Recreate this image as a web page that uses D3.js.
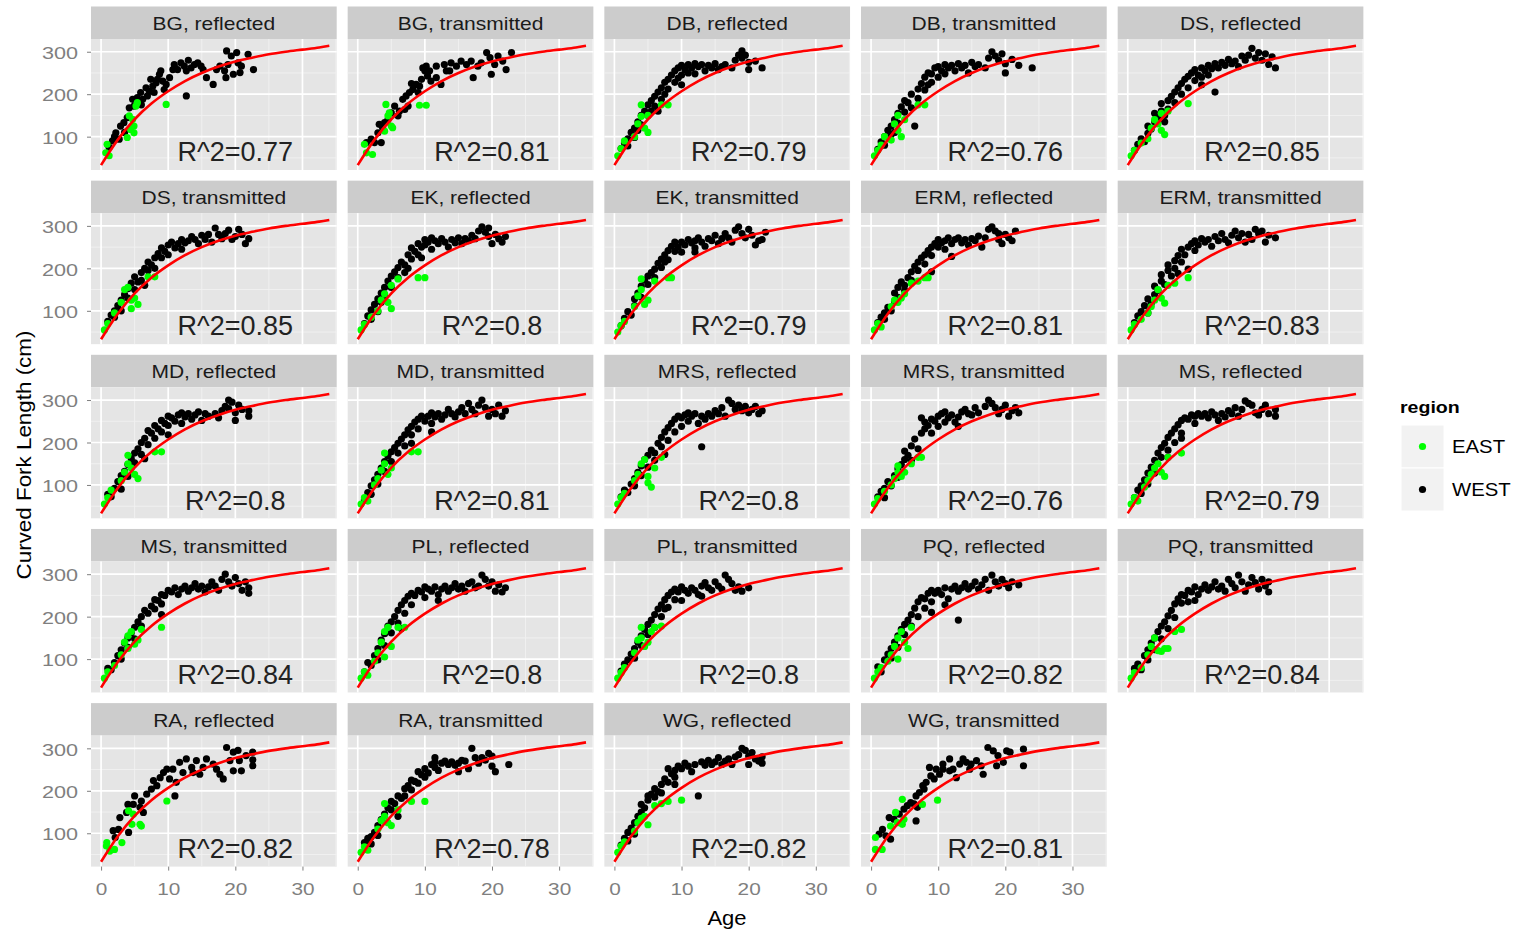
<!DOCTYPE html>
<html>
<head>
<meta charset="utf-8">
<script src="https://cdn.jsdelivr.net/npm/d3@7"></script>
<style>
  body { margin: 0; background: #ffffff; }
  svg text { font-family: "Liberation Sans", Arial, sans-serif; }
</style>
</head>
<body>
<svg id="chart" width="1517" height="932"></svg>
<script>
// Facet titles and fit quality, in facet order
const panelNames = [
  "BG, reflected", "BG, transmitted", "DB, reflected", "DB, transmitted", "DS, reflected",
  "DS, transmitted", "EK, reflected", "EK, transmitted", "ERM, reflected", "ERM, transmitted",
  "MD, reflected", "MD, transmitted", "MRS, reflected", "MRS, transmitted", "MS, reflected",
  "MS, transmitted", "PL, reflected", "PL, transmitted", "PQ, reflected", "PQ, transmitted",
  "RA, reflected", "RA, transmitted", "WG, reflected", "WG, transmitted"
];
const rSquared = [
  0.77, 0.81, 0.79, 0.76, 0.85,
  0.85, 0.8, 0.79, 0.81, 0.83,
  0.8, 0.81, 0.8, 0.76, 0.79,
  0.84, 0.8, 0.8, 0.82, 0.84,
  0.82, 0.78, 0.82, 0.81
];

// Fitted growth curve (age, curved fork length)
const fitAge    = [0, 2.5, 5, 7.5, 10, 12.5, 15, 17.5, 20, 22.5, 25, 27.5, 30, 32.5, 34];
const fitLength = [33, 93, 141, 178, 207, 231, 250, 265, 277, 286, 294, 300, 305, 310, 314];

const xTicks = [0, 10, 20, 30];
const yTicks = [100, 200, 300];
const regions = ["EAST", "WEST"];

// [age, length] per reader/method
const bgRefWest = [[1.7,90],[2.2,109],[2.9,125],[2.7,94],[3.4,133],[3.9,145],[4.2,168],[4.7,188],[4.9,172],[5.4,192],[5.9,204],[6.2,188],[6.7,215],[6.9,196],[7.2,207],[7.7,219],[7.9,204],[8.2,227],[8.7,247],[8.9,255],[9.2,231],[9.7,223],[10.2,239],[10.7,258],[10.9,270],[11.4,258],[11.9,274],[12.4,266],[12.7,255],[13.4,262],[13.9,270],[14.4,274],[14.9,266],[15.2,258],[15.7,239],[16.7,223],[12.7,196],[17.2,258],[17.7,266],[18.4,255],[18.6,239],[18.9,270],[18.7,302],[19.4,290],[20.2,298],[20.4,274],[20.7,251],[20.9,266],[21.9,294],[22.7,258],[19.7,247],[8.4,235],[9.4,211],[7.4,235],[1.2,75],[2.0,100],[3.5,110],[6.0,175],[11.0,262],[13.0,280]];
const bgRefEast = [[0.9,82],[0.7,62],[1.2,55],[3.9,98],[4.4,117],[4.9,125],[4.2,149],[5.2,172],[5.4,180],[9.7,176],[4.9,109],[4.7,141]];

const bgTrWest = [[1.3,86],[2,94],[3,109],[3.5,86],[3.2,129],[4,133],[5,156],[5.5,172],[6.2,160],[6.7,188],[7.2,196],[7.5,172],[7.7,204],[8.2,211],[8.7,223],[9.2,219],[9.5,235],[9.7,262],[10,255],[10.4,243],[10.9,231],[11.7,239],[12.4,223],[12.9,270],[13.2,255],[13.9,274],[14.7,266],[15.4,278],[16.2,270],[16.9,278],[17.2,239],[17.9,266],[18.4,274],[19.2,298],[19.7,286],[19.9,247],[20.4,270],[20.9,290],[21.6,278],[22.1,258],[22.9,298],[13.7,255],[11.7,266],[10.7,255],[10.2,266],[9,204],[7,164],[6,149],[3.7,121],[2.5,86],[4.5,140],[8,225]];
const bgTrEast = [[1,82],[1.3,62],[2.2,58],[4.2,176],[4.5,149],[5,125],[5.2,121],[4,113],[9.2,174],[10.2,174],[4.7,156]];

const dbRefWest = [[1,72],[1.5,85],[2,95],[2,78],[2.5,110],[3,120],[3,98],[3.5,135],[3.5,115],[4,150],[4,128],[4.5,160],[5,175],[5,150],[5.5,185],[5.5,160],[6,195],[6,172],[6.5,205],[7,215],[7,188],[7.5,228],[7.5,200],[8,235],[8,212],[8.5,245],[9,255],[9,228],[9.5,262],[9.5,238],[10,268],[10,245],[10.5,258],[11,270],[11,250],[11.5,262],[12,272],[12,248],[12.5,265],[13,270],[13.5,255],[14,268],[14.5,262],[15,272],[15.5,258],[16,265],[16.5,270],[17.5,262],[18,280],[18.5,292],[19,302],[19,285],[19.5,292],[20,275],[20,258],[21,278],[22,262],[6.5,160],[10,222]];
const dbRefEast = [[0.5,55],[1,72],[1.5,90],[3.5,130],[4,148],[4,175],[4.5,120],[5,110],[5,150],[7,175],[8,175],[3,100]];

const dbTrWest = [[1,70],[1.5,88],[2,80],[2,100],[2.5,115],[3,105],[3,125],[3.5,140],[4,155],[4,132],[4.5,170],[5,185],[5,158],[5.5,180],[6,200],[6,168],[6.5,125],[7,212],[7,190],[7.5,225],[8,240],[8,210],[8.5,250],[9,248],[9,228],[9.5,262],[10,265],[10,240],[10.5,255],[11,270],[11,248],[11.5,262],[12,268],[12.5,255],[13,272],[13.5,262],[14,268],[14.5,250],[15,275],[15.5,265],[16,270],[17,262],[17.5,285],[18,300],[18.5,290],[19,280],[19.5,295],[20,272],[20,250],[21,282],[22,268],[24,262],[3.5,110],[8.5,222]];
const dbTrEast = [[0.5,55],[1,68],[1.5,80],[2,100],[3.5,130],[4,150],[4,115],[4.5,100],[5,140],[7,175],[8,175],[3,92]];

const dsRefWest = [[1,68],[1.5,82],[2,95],[2.5,88],[3,108],[3,125],[3.5,118],[4,135],[4,155],[4.5,145],[5,160],[5,178],[5.5,150],[6,185],[6,165],[6.5,195],[7,205],[7,180],[7.5,215],[8,225],[8,200],[8.5,235],[9,242],[9,215],[9.5,250],[10,258],[10,232],[10.5,245],[11,262],[11,240],[11.5,255],[12,268],[12,245],[12.5,260],[13,272],[13,205],[13.5,262],[14,275],[14.5,268],[15,282],[15.5,272],[16,278],[16.5,265],[17,290],[17.5,280],[18,292],[18.5,308],[19,285],[19.5,298],[20,280],[20.5,295],[21,270],[21.5,288],[22,262],[5.5,135],[11,222]];
const dsRefEast = [[0.5,55],[1,68],[2,85],[3,95],[3.5,120],[4,140],[4.5,130],[5,115],[5,155],[5.5,105],[6,160],[9,178]];

const dsTrWest = [[1,75],[1.5,90],[2,85],[2,100],[2.5,112],[3,100],[3,125],[3.5,138],[4,130],[4,152],[4.5,165],[5,150],[5,180],[5.5,168],[6,190],[6,172],[6.5,200],[7,195],[7,215],[7.5,208],[8,225],[8,200],[8.5,235],[9,225],[9,248],[9.5,240],[10,255],[10,232],[10.5,262],[11,248],[11.5,258],[12,245],[12,268],[12.5,260],[13,265],[13.5,275],[14,268],[14.5,258],[15,278],[15.5,268],[16,280],[16.5,262],[17,295],[17.5,280],[18,270],[18.5,282],[19,290],[19.5,268],[20,275],[20.5,292],[21,280],[21.5,258],[22,270],[6.5,160]];
const dsTrEast = [[0.5,55],[1,70],[2,95],[3,120],[3.5,150],[4,155],[4.5,125],[4.5,105],[5,130],[5.5,115],[7,180],[8,180]];

const ekRefWest = [[1,70],[1.5,88],[2,80],[2,102],[2.5,115],[3,98],[3,128],[3.5,142],[3.5,120],[4,155],[4,135],[4.5,170],[5,182],[5,155],[5.5,192],[6,202],[6,178],[6.5,215],[7,208],[7,190],[7.5,232],[8,222],[8,248],[8.5,240],[9,258],[9,232],[9.5,250],[10,255],[10,268],[10.5,262],[11,245],[11,272],[11.5,265],[12,258],[12.5,270],[13,262],[13.5,250],[14,268],[14.5,260],[15,272],[15.5,258],[16,270],[16.5,265],[17,278],[17.5,270],[18,288],[18.5,298],[19,285],[19.5,275],[19.5,295],[20,258],[20.5,280],[21,270],[21.5,262],[22,275],[7.5,200],[9.5,225]];
const ekRefEast = [[0.5,55],[1,68],[2,85],[3,100],[3.5,125],[4,140],[4.5,120],[5,160],[5,105],[6,175],[9,178],[10,178]];

const ekTrWest = [[1,65],[1.5,82],[2,98],[2.5,90],[3,112],[3,128],[3.5,142],[4,132],[4,158],[4.5,172],[5,162],[5,182],[5.5,190],[6,198],[6,178],[6.5,212],[7,222],[7,202],[7.5,232],[8,220],[8,242],[8.5,252],[9,240],[9,262],[9.5,250],[10,262],[10.5,255],[11,268],[11.5,260],[12,265],[12,248],[12.5,272],[13,262],[13.5,252],[14,270],[14.5,265],[15,278],[15.5,258],[16,270],[16.5,282],[17,272],[17.5,262],[18,290],[18.5,298],[19,282],[19.5,272],[20,292],[20.5,278],[21,255],[21.5,265],[22,268],[22.5,285],[10,238],[12,238],[7.5,215]];
const ekTrEast = [[0.5,50],[1,65],[1.5,75],[3,110],[3.5,135],[4,150],[4,175],[4.5,115],[5,125],[6,170],[8,178],[8.5,178]];

const ermRefWest = [[1,72],[1.5,85],[2,95],[2,80],[2.5,108],[3,100],[3.5,122],[3.5,142],[4,155],[4,132],[4.5,168],[5,160],[5,148],[5.5,178],[6,192],[6,172],[6.5,205],[7,215],[7,195],[7.5,225],[8,232],[8,210],[8.5,242],[9,250],[9,230],[9.5,258],[10,250],[10,268],[10.5,260],[11,265],[11,245],[11.5,272],[12,258],[12.5,268],[13,272],[13.5,260],[14,268],[14.5,255],[15,270],[15.5,265],[16,276],[16.5,250],[17,272],[17.5,292],[18,298],[18.5,288],[19,282],[19,268],[19.5,258],[20,280],[20.5,272],[21,265],[21.5,288],[9,192],[12,228]];
const ermRefEast = [[0.5,55],[1,70],[1.5,62],[3,110],[3.5,125],[4,120],[4.5,130],[5,140],[6,165],[7,170],[8,178],[8.5,178]];

const ermTrWest = [[1,72],[1.5,88],[2,98],[2.5,112],[3,95],[3,128],[3.5,118],[4,138],[4,158],[4.5,148],[5,170],[5,185],[5.5,162],[6,195],[6,208],[6.5,182],[7,218],[7,200],[7.5,230],[8,215],[8,245],[8.5,232],[9,250],[9.5,258],[10,242],[10,265],[10.5,255],[11,270],[11.5,262],[12,268],[12.5,252],[13,275],[13.5,265],[14,282],[14.5,268],[15,260],[15.5,278],[16,288],[16.5,272],[17,282],[17.5,262],[18,280],[18.5,268],[19,292],[19.5,282],[20,288],[20.5,262],[21,278],[22,272],[9,198],[7.5,188]];
const ermTrEast = [[0.5,55],[1,68],[2,80],[3,95],[3.5,110],[4,125],[4.5,150],[5,130],[5.5,118],[6,160],[7,165],[9,178]];

const mdRefWest = [[1,78],[1.5,72],[2,92],[2.5,108],[3,90],[3,122],[3.5,132],[4,148],[4,120],[4.5,162],[5,175],[5,152],[5.5,185],[6,200],[6,172],[6.5,210],[7,228],[7,195],[7.5,222],[8,240],[8,210],[8.5,232],[9,252],[9,225],[9.5,245],[10,262],[10,240],[10.5,258],[11,250],[11.5,265],[12,270],[12,245],[12.5,260],[13,268],[13.5,255],[14,265],[14.5,272],[15,252],[15.5,268],[16,262],[17,268],[17.5,258],[18,275],[18.5,285],[19,300],[19,280],[19.5,295],[20,270],[20,252],[20.5,288],[21,278],[22,275],[22,262],[6.5,162],[10,218]];
const mdRefEast = [[0.5,55],[1,70],[1.5,88],[3,110],[3.5,130],[4,150],[4,170],[4.5,140],[5,125],[5.5,115],[8,178],[9,178]];

const mdTrWest = [[1,65],[1.5,82],[2,78],[2,98],[2.5,112],[3,125],[3,102],[3.5,140],[4,155],[4,132],[4.5,168],[5,178],[5,155],[5.5,188],[6,198],[6,175],[6.5,208],[7,218],[7,192],[7.5,230],[8,238],[8,218],[8.5,248],[9,255],[9,232],[9.5,262],[10,250],[10.5,262],[11,270],[11,245],[11.5,260],[12,268],[12.5,255],[13,265],[13.5,278],[14,268],[14.5,260],[15,272],[15.5,282],[16,268],[16.5,292],[17,278],[17.5,268],[18,288],[18.5,300],[19,282],[19.5,262],[20,278],[20.5,268],[21,288],[21.5,262],[22,275],[11,225],[8,198]];
const mdTrEast = [[0.5,55],[1,70],[1.5,62],[2.5,100],[3,115],[3.5,135],[4,150],[4,175],[4.5,125],[5,140],[8,178],[9,178]];

const mrsRefWest = [[1,72],[1.5,88],[2,82],[2.5,102],[3,115],[3,98],[3.5,130],[4,145],[4,122],[4.5,160],[5,170],[5,142],[5.5,182],[6,175],[6,158],[6.5,198],[7,212],[7,190],[7.5,225],[8,235],[8,205],[8.5,245],[9,255],[9,225],[9.5,262],[10,258],[10.5,265],[11,270],[11,250],[11.5,262],[12,268],[12.5,245],[13,262],[13,190],[13.5,255],[14,268],[14.5,262],[15,275],[15.5,268],[16,282],[16.5,262],[17,300],[17.5,292],[18,278],[18.5,288],[19,275],[19.5,285],[20,270],[20.5,278],[21,285],[21.5,268],[22,275],[10,238],[7.5,172]];
const mrsRefEast = [[0.5,55],[1,70],[1.5,80],[3,110],[3.5,125],[4,150],[4.5,160],[5,105],[5,120],[5.5,95],[6,140],[7,165]];

const mrsTrWest = [[1,72],[1.5,85],[2,70],[2,92],[2.5,108],[3,98],[3.5,122],[4,138],[4,118],[4.5,148],[5,160],[5,180],[5.5,170],[6,192],[6,158],[6.5,208],[7,185],[7.5,222],[7.5,258],[8,232],[8,248],[8.5,240],[9,255],[9.5,250],[10,262],[10,238],[10.5,268],[11,272],[11,248],[11.5,258],[12,265],[12.5,248],[13,260],[13.5,272],[14,278],[14.5,268],[15,265],[15.5,282],[16,270],[17,285],[17.5,300],[18,292],[18.5,282],[19,268],[19.5,278],[20,288],[20.5,262],[21,275],[21.5,282],[22,270],[9,222],[13,238]];
const mrsTrEast = [[0.5,55],[1,68],[2,85],[3,100],[3.5,115],[4,130],[4,145],[4.5,120],[5,130],[6,150],[7,165],[7.5,165]];

const msRefWest = [[1,70],[1.5,88],[2,98],[2,80],[2.5,112],[3,128],[3,102],[3.5,142],[4,158],[4,128],[4.5,175],[5,188],[5,165],[5.5,198],[6,212],[6,182],[6.5,222],[7,232],[7,200],[7.5,242],[8,252],[8,222],[8.5,258],[9,255],[9.5,265],[10,262],[10,245],[10.5,268],[11,262],[11.5,268],[12,258],[12.5,272],[13,265],[13.5,252],[14,268],[14.5,260],[15,275],[15.5,268],[16,282],[16.5,262],[17,278],[17.5,298],[18,292],[18.5,288],[19,270],[19.5,265],[20,278],[20.5,288],[21,268],[22,278],[22,262],[8,210],[6,165]];
const msRefEast = [[0.5,55],[1,70],[1.5,62],[2.5,95],[3,110],[3.5,125],[4,140],[4.5,150],[5,130],[5.5,120],[6,165],[8,175]];

const msTrWest = [[1,78],[1.5,75],[2,92],[2.5,108],[3,122],[3,100],[3.5,138],[4,150],[4,128],[4.5,162],[5,175],[5,148],[5.5,188],[6,200],[6,178],[6.5,215],[7,208],[7.5,225],[8,240],[8,218],[8.5,238],[9,252],[9,230],[9.5,250],[10,262],[10.5,258],[11,268],[11.5,252],[12,265],[12.5,272],[13,260],[13.5,268],[14,278],[14.5,265],[15,272],[15.5,258],[16,270],[16.5,282],[17,272],[17.5,262],[18,288],[18.5,300],[19,282],[19.5,272],[20,292],[20.5,278],[21,262],[21.5,282],[22,255],[22,268],[9,205]];
const msTrEast = [[0.5,55],[1,70],[2,85],[3,110],[3.5,140],[4,155],[4.5,165],[4,125],[5,135],[5.5,145],[6,170],[9,175]];

const plRefWest = [[1,70],[1.5,92],[2,85],[2.5,108],[3,125],[3,98],[3.5,145],[4,160],[4,132],[4.5,178],[5,188],[5,162],[5.5,200],[6,215],[6,185],[6.5,228],[7,238],[7,208],[7.5,248],[8,255],[8,228],[8.5,250],[9,262],[9.5,258],[10,270],[10,245],[10.5,265],[11,260],[11.5,270],[12,252],[12.5,265],[13,272],[13.5,260],[14,268],[14.5,278],[15,265],[15.5,272],[16,260],[16.5,278],[17,282],[17.5,268],[18,272],[18.5,298],[19,288],[19.5,272],[20,282],[20.5,260],[21,275],[21.5,258],[22,268],[6.5,172],[12,238]];
const plRefEast = [[0.5,55],[1,70],[1.5,62],[2.5,95],[3,115],[3.5,140],[4,165],[4.5,175],[4,105],[5,130],[6,175],[7,175]];

const plTrWest = [[1,72],[1.5,88],[2,98],[2.5,112],[3,125],[3,102],[3.5,140],[4,155],[4,132],[4.5,170],[5,182],[5,158],[5.5,192],[6,205],[6,175],[6.5,218],[7,228],[7,200],[7.5,240],[8,250],[8,222],[8.5,258],[9,265],[9,240],[9.5,258],[10,270],[10.5,262],[11,255],[11.5,268],[12,262],[12.5,252],[13,272],[13.5,280],[14,268],[14.5,262],[15,282],[15.5,272],[16,265],[16.5,298],[17,288],[17.5,278],[18,262],[18.5,270],[19,260],[20,268],[10,238],[13,248],[7.5,218]];
const plTrEast = [[0.5,55],[1,68],[1.5,80],[3,115],[3.5,145],[4,150],[4,175],[4.5,130],[5,140],[5.5,165],[6,175],[7,178]];

const pqRefWest = [[1,82],[1.5,70],[2,98],[2.5,112],[3,125],[3,102],[3.5,140],[4,155],[4,128],[4.5,170],[5,182],[5,158],[5.5,192],[6,205],[6,178],[6.5,220],[7,235],[7,200],[7.5,245],[8,242],[8,220],[8.5,255],[9,262],[9,235],[9.5,255],[10,262],[10.5,252],[11,268],[11.5,242],[12,265],[12.5,272],[13,260],[13,192],[13.5,268],[14,278],[14.5,265],[15,272],[15.5,282],[16,265],[16.5,275],[17,288],[17.5,262],[18,298],[18.5,282],[19,272],[19.5,288],[20,278],[20.5,268],[21,282],[22,275],[9,210],[11,228]];
const pqRefEast = [[0.5,55],[1,70],[1.5,80],[2.5,95],[3,110],[3.5,130],[4,150],[4.5,165],[5,140],[5.5,125],[6,175],[4,100]];

const pqTrWest = [[1,78],[1.5,88],[2,75],[2.5,108],[3,122],[3,98],[3.5,138],[4,150],[4,122],[4.5,165],[5,178],[5,148],[5.5,188],[6,202],[6,172],[6.5,215],[7,230],[7,198],[7.5,242],[8,232],[8,252],[8.5,250],[9,262],[9,235],[9.5,258],[10,270],[10.5,252],[11,265],[11.5,275],[12,262],[12.5,270],[13,282],[13.5,265],[14,272],[14.5,260],[15,288],[15.5,278],[16,268],[16.5,298],[17,282],[17.5,260],[18,275],[18.5,292],[19,280],[19.5,265],[20,288],[20.5,272],[21,258],[21,282],[10,238]];
const pqTrEast = [[0.5,55],[1,68],[2,80],[3,110],[3.5,130],[4,150],[4.5,120],[5,118],[5.5,125],[6,125],[7,165],[8,170]];

const raRefWest = [[18.7,302],[19.7,291],[20.4,295],[20.6,271],[20.9,247],[22.6,291],[22.6,259],[22.6,273],[17.7,239],[14.7,239],[16.7,263],[15.7,275],[14.2,271],[12.7,275],[11.7,267],[10.7,251],[9.8,251],[11,188],[11.2,220],[12.2,243],[13.5,255],[15.2,255],[17.2,251],[19.2,271],[8.8,231],[8.3,212],[7.5,204],[6.8,192],[6,176],[5,188],[4.8,168],[4,168],[3.8,149],[2.8,137],[2.6,109],[1.8,106],[2.1,90],[4.1,102],[7.8,224],[9.3,243],[10.2,228],[18.2,228],[19.7,247],[21.6,283],[13.7,243],[6.3,149],[5.8,161]];
const raRefEast = [[0.85,78],[1.3,58],[2,62],[3.1,78],[4.1,153],[4.8,145],[4.6,121],[5.8,121],[6,117],[9.8,176],[0.8,70]];

const raTrWest = [[1,78],[1.5,88],[2,92],[2,75],[2.5,102],[3,118],[3,95],[3.5,132],[4,145],[4.5,160],[5,155],[5,175],[5.5,170],[6,188],[6,140],[6.5,182],[7,205],[7,188],[7.5,212],[8,225],[8,202],[8.5,222],[9,245],[9,218],[9.5,238],[10,252],[10,232],[10.5,242],[11,262],[11.5,278],[11.5,268],[11.5,255],[12,248],[12.5,265],[13,270],[13.5,262],[14,268],[14.5,260],[15,265],[15.5,272],[16,270],[16.5,252],[17,300],[17.5,278],[18,265],[18.5,278],[19,272],[19.5,288],[20,282],[20,258],[20.5,245],[22.5,262],[15,245]];
const raTrEast = [[0.5,55],[1,68],[1.5,60],[3,110],[3.5,130],[4,140],[4,170],[4.5,125],[5,118],[6,155],[8,175],[10,175]];

const wgRefWest = [[1,72],[1.5,88],[2,82],[2,102],[2.5,112],[3,125],[3,98],[3.5,140],[4,150],[4,168],[4.5,160],[5,178],[5,188],[5.5,192],[6,185],[6,205],[6.5,198],[7,215],[7,195],[7.5,228],[8,220],[8,252],[8.5,240],[9,248],[9,232],[9.5,258],[10,252],[10.5,265],[11,258],[11.5,245],[12,262],[12.5,188],[13,268],[13.5,260],[14,272],[14.5,262],[15,268],[15.5,278],[16,262],[16.5,270],[17,275],[17.5,262],[18,280],[18.5,285],[19,300],[19.5,295],[20,282],[20,262],[20.5,290],[21,275],[21.5,270],[22,280],[22,265],[9,215]];
const wgRefEast = [[0.5,55],[1,70],[1.5,80],[3,105],[3.5,125],[4,135],[4.5,140],[5,120],[6,165],[7,170],[8,175],[10,178]];

const wgTrWest = [[17.4,302],[18.2,294],[18.9,283],[20.2,294],[20.7,291],[22.7,298],[22.7,259],[19.7,267],[18.7,259],[16.7,239],[16.4,259],[15.7,271],[14.9,263],[14.2,267],[13.7,275],[13.2,263],[12.2,251],[11.7,275],[11.7,247],[10.7,251],[9.7,251],[8.7,255],[8.9,235],[10.2,239],[9.4,228],[8.2,220],[7.7,212],[7.2,196],[6.7,188],[6.4,169],[6.7,129],[5.9,172],[5.4,165],[4.9,157],[4.2,145],[3.4,133],[2.7,137],[2.9,86],[1.7,109],[2.2,94],[1.2,98],[10.7,263],[12.7,231],[14.7,251],[7.9,204],[6.9,161]];
const wgTrEast = [[0.65,90],[0.65,62],[1.65,62],[4.65,180],[3.65,149],[3.9,125],[4.65,121],[4.9,133],[7.65,168],[9.9,178],[2.9,117]];

const westSets = [bgRefWest, bgTrWest, dbRefWest, dbTrWest, dsRefWest, dsTrWest, ekRefWest, ekTrWest, ermRefWest, ermTrWest,
  mdRefWest, mdTrWest, mrsRefWest, mrsTrWest, msRefWest, msTrWest, plRefWest, plTrWest, pqRefWest, pqTrWest,
  raRefWest, raTrWest, wgRefWest, wgTrWest];
const eastSets = [bgRefEast, bgTrEast, dbRefEast, dbTrEast, dsRefEast, dsTrEast, ekRefEast, ekTrEast, ermRefEast, ermTrEast,
  mdRefEast, mdTrEast, mrsRefEast, mrsTrEast, msRefEast, msTrEast, plRefEast, plTrEast, pqRefEast, pqTrEast,
  raRefEast, raTrEast, wgRefEast, wgTrEast];

// ---- layout ----
const nCols = 5;
const nRows = Math.ceil(panelNames.length / nCols);
const left0 = 91, colPitch = 256.67, panelW = 245.7;
const top0 = 6.5, rowPitch = 174.15, stripH = 32.5, plotH = 131;
const regionColor = d3.scaleOrdinal().domain(regions).range(["#00FF00", "#000000"]);
const axisGrey = "#7F7F7F";
const pointR = 3.6;

const x = d3.scaleLinear().domain([-1.5, 35.1]).range([0, panelW]);
const y = d3.scaleLinear().domain([21.5, 330]).range([plotH, 0]);
const fitLine = d3.line().x(d => x(d[0])).y(d => y(d[1])).curve(d3.curveMonotoneX);
const fitPoints = fitAge.map((a, k) => [a, fitLength[k]]);

// widen glyphs horizontally around each text's own anchor point
function widen(sel, sx) {
  sel.each(function () {
    const t = d3.select(this);
    const tx = +t.attr("x") || 0, ty = +t.attr("y") || 0;
    t.attr("x", 0).attr("y", 0).attr("transform", `translate(${tx},${ty}) scale(${sx},1)`);
  });
}

const svg = d3.select("#chart");

panelNames.forEach((name, i) => {
  const col = i % nCols, row = Math.floor(i / nCols);
  const g = svg.append("g").attr("transform", `translate(${left0 + col * colPitch},${top0 + row * rowPitch})`);

  // strip
  g.append("rect").attr("width", panelW).attr("height", stripH).attr("fill", "#CCCCCC");
  g.append("text").attr("x", panelW / 2).attr("y", stripH / 2).attr("dy", "0.42em")
    .attr("text-anchor", "middle").attr("font-size", 17.5).attr("fill", "#1A1A1A").text(name)
    .call(widen, 1.2);

  const p = g.append("g").attr("transform", `translate(0,${stripH})`);
  p.append("rect").attr("width", panelW).attr("height", plotH).attr("fill", "#E5E5E5");

  // minor then major grid
  p.selectAll(".vminor").data([5, 15, 25, 35]).join("line")
    .attr("x1", d => x(d)).attr("x2", d => x(d)).attr("y1", 0).attr("y2", plotH)
    .attr("stroke", "#F2F2F2").attr("stroke-width", 0.9);
  p.selectAll(".hminor").data([50, 150, 250]).join("line")
    .attr("y1", d => y(d)).attr("y2", d => y(d)).attr("x1", 0).attr("x2", panelW)
    .attr("stroke", "#F2F2F2").attr("stroke-width", 0.9);
  p.selectAll(".vmajor").data(xTicks).join("line")
    .attr("x1", d => x(d)).attr("x2", d => x(d)).attr("y1", 0).attr("y2", plotH)
    .attr("stroke", "#FFFFFF").attr("stroke-width", 1.7);
  p.selectAll(".hmajor").data(yTicks).join("line")
    .attr("y1", d => y(d)).attr("y2", d => y(d)).attr("x1", 0).attr("x2", panelW)
    .attr("stroke", "#FFFFFF").attr("stroke-width", 1.7);

  // observations
  const pts = westSets[i].map(d => ({ age: d[0], len: d[1], region: "WEST" }))
    .concat(eastSets[i].map(d => ({ age: d[0], len: d[1], region: "EAST" })));
  p.selectAll("circle.obs").data(pts).join("circle")
    .attr("class", "obs")
    .attr("cx", d => x(d.age)).attr("cy", d => y(d.len)).attr("r", pointR)
    .attr("fill", d => regionColor(d.region));

  // fitted curve
  p.append("path").datum(fitPoints).attr("d", fitLine)
    .attr("fill", "none").attr("stroke", "#FF0000").attr("stroke-width", 2.6);

  // R^2 label
  p.append("text").attr("x", x(20)).attr("y", y(65)).attr("dy", "0.36em")
    .attr("text-anchor", "middle").attr("font-size", 27).attr("fill", "#222222")
    .text("R^2=" + rSquared[i]);

  if (col === 0) {
    const ya = p.append("g").call(d3.axisLeft(y).tickValues(yTicks).tickSize(4).tickPadding(9));
    ya.select(".domain").remove();
    ya.selectAll("line").attr("stroke", axisGrey);
    ya.selectAll("text").attr("font-size", 16).attr("fill", axisGrey).attr("font-family", null)
      .attr("dy", "0.42em").call(widen, 1.35);
  }
  if (row === nRows - 1) {
    const xa = p.append("g").attr("transform", `translate(0,${plotH})`)
      .call(d3.axisBottom(x).tickValues(xTicks).tickSize(4).tickPadding(13.5));
    xa.select(".domain").remove();
    xa.selectAll("line").attr("stroke", axisGrey);
    xa.selectAll("text").attr("font-size", 16).attr("fill", axisGrey).attr("font-family", null)
      .call(widen, 1.3);
  }
});

// axis titles
svg.append("text").attr("x", 727).attr("y", 925).attr("text-anchor", "middle")
  .attr("font-size", 20).attr("fill", "#000").text("Age").call(widen, 1.1);
svg.append("text").attr("transform", "translate(31,455) rotate(-90) scale(1.12,1)").attr("text-anchor", "middle")
  .attr("font-size", 20).attr("fill", "#000").text("Curved Fork Length (cm)");

// legend
const legend = svg.append("g").attr("transform", "translate(1400,0)");
legend.append("text").attr("x", 0).attr("y", 413).attr("font-size", 17).attr("font-weight", "bold")
  .attr("fill", "#000").text("region").call(widen, 1.15);
regions.forEach((r, k) => {
  const ky = 425 + k * 43;
  legend.append("rect").attr("x", 1).attr("y", ky).attr("width", 43).attr("height", 43)
    .attr("fill", "#F2F2F2").attr("stroke", "#FFFFFF").attr("stroke-width", 1);
  legend.append("circle").attr("cx", 22.5).attr("cy", ky + 21.5).attr("r", pointR).attr("fill", regionColor(r));
  legend.append("text").attr("x", 52).attr("y", ky + 21.5).attr("dy", "0.38em")
    .attr("font-size", 18).attr("fill", "#000").text(r).call(widen, 1.13);
});
</script>
</body>
</html>
